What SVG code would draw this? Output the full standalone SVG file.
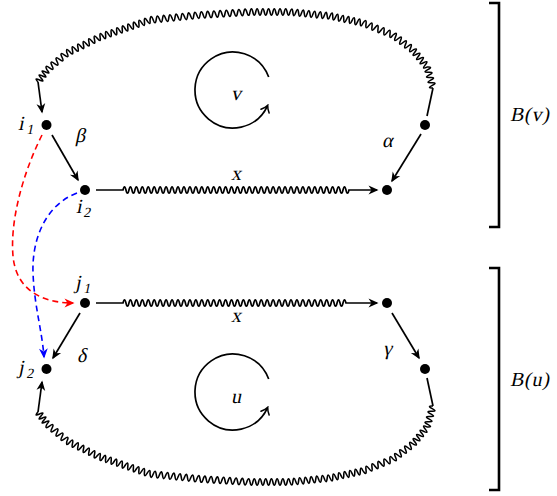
<svg xmlns="http://www.w3.org/2000/svg" width="557" height="496" viewBox="0 0 557 496">
<style>
.ln{fill:none;stroke:#000;stroke-width:1.7}
.sn path{fill:none;stroke:#000;stroke-width:1.6}
.dot{fill:#000}
.lb{font-family:'Liberation Serif','Times New Roman',serif;font-size:20px;fill:#000}
.sub{font-size:14px}
.br{fill:none;stroke:#000;stroke-width:2.6}
.dr{fill:none;stroke:#f00;stroke-width:1.6;stroke-dasharray:6 4}
.db{fill:none;stroke:#00f;stroke-width:1.6;stroke-dasharray:6 4}
</style>
<defs>
<marker id="ah" viewBox="-10 -5 12 10" refX="0" refY="0" markerWidth="12" markerHeight="10" markerUnits="userSpaceOnUse" orient="auto"><path d="M1.5,0 L-8.5,-4.4 L-5.5,0 L-8.5,4.4 Z" fill="#000"/></marker>
<marker id="ahr" viewBox="-10 -5 12 10" refX="0" refY="0" markerWidth="12" markerHeight="10" markerUnits="userSpaceOnUse" orient="auto"><path d="M1.5,0 L-8.5,-4.4 L-5.5,0 L-8.5,4.4 Z" fill="#f00"/></marker>
<marker id="ahb" viewBox="-10 -5 12 10" refX="0" refY="0" markerWidth="12" markerHeight="10" markerUnits="userSpaceOnUse" orient="auto"><path d="M1.5,0 L-8.5,-4.4 L-5.5,0 L-8.5,4.4 Z" fill="#00f"/></marker>
<marker id="oh" viewBox="-8 -6 10 12" refX="0" refY="0" markerWidth="10" markerHeight="12" markerUnits="userSpaceOnUse" orient="auto"><path d="M-5.5,-4.5 Q-2,-1 0.8,0 Q-2,1 -5.5,4.5" fill="none" stroke="#000" stroke-width="1.5" stroke-linecap="round"/></marker>
<g id="bigwave" class="sn">
<path transform="translate(433,88) rotate(-105.9)" d="M0,0q1.365,-6.4 2.73,0t2.73,0t2.73,0t2.73,0t2.73,0t2.73,0t2.73,0t2.73,0"/>
<path transform="translate(427,67) rotate(-129.5)" d="M0,0q1.375,-6.4 2.75,0t2.75,0t2.75,0t2.75,0t2.75,0t2.75,0t2.75,0t2.75,0"/>
<path transform="translate(413,50) rotate(-143.13)" d="M0,0q1.5625,-6.4 3.125,0t3.125,0t3.125,0t3.125,0t3.125,0t3.125,0t3.125,0t3.125,0"/>
<path transform="translate(393,35) rotate(-158.2)" d="M0,0q1.615,-6.4 3.23,0t3.23,0t3.23,0t3.23,0t3.23,0t3.23,0t3.23,0t3.23,0t3.23,0t3.23,0"/>
<path transform="translate(363,23) rotate(-168)" d="M0,0q1.405,-6.4 2.81,0t2.81,0t2.81,0t2.81,0t2.81,0t2.81,0t2.81,0t2.81,0t2.81,0t2.81,0t2.81,0t2.81,0"/>
<path transform="translate(330,16) rotate(-174.29)" d="M0,0q1.435,-6.4 2.87,0t2.87,0t2.87,0t2.87,0t2.87,0t2.87,0t2.87,0t2.87,0t2.87,0t2.87,0t2.87,0t2.87,0t2.87,0t2.87,0"/>
<path transform="translate(290,12) rotate(180)" d="M0,0q1.4285,-6.4 2.857,0t2.857,0t2.857,0t2.857,0t2.857,0t2.857,0t2.857,0t2.857,0t2.857,0t2.857,0t2.857,0t2.857,0t2.857,0t2.857,0"/>
<path transform="translate(250,12) rotate(176.57)" d="M0,0q1.565,-6.4 3.13,0t3.13,0t3.13,0t3.13,0t3.13,0t3.13,0t3.13,0t3.13,0t3.13,0t3.13,0t3.13,0t3.13,0t3.13,0t3.13,0t3.13,0t3.13,0"/>
<path transform="translate(200,15) rotate(174.29)" d="M0,0q1.57,-6.4 3.14,0t3.14,0t3.14,0t3.14,0t3.14,0t3.14,0t3.14,0t3.14,0t3.14,0t3.14,0t3.14,0t3.14,0t3.14,0t3.14,0t3.14,0t3.14,0"/>
<path transform="translate(150,20) rotate(161.22)" d="M0,0q1.465,-6.4 2.93,0t2.93,0t2.93,0t2.93,0t2.93,0t2.93,0t2.93,0t2.93,0t2.93,0t2.93,0t2.93,0t2.93,0t2.93,0t2.93,0t2.93,0t2.93,0t2.93,0t2.93,0"/>
<path transform="translate(100,37) rotate(154.13)" d="M0,0q1.53,-6.4 3.06,0t3.06,0t3.06,0t3.06,0t3.06,0t3.06,0t3.06,0t3.06,0t3.06,0t3.06,0t3.06,0t3.06,0"/>
<path transform="translate(67,53) rotate(139.64)" d="M0,0q1.64,-6.4 3.28,0t3.28,0t3.28,0t3.28,0t3.28,0t3.28,0t3.28,0t3.28,0"/>
<path transform="translate(47,70) rotate(126.87)" d="M0,0q1.25,-6.4 2.5,0t2.5,0t2.5,0t2.5,0t2.5,0t2.5,0"/>
</g>
</defs>
<rect width="557" height="496" fill="#fff"/>

<g id="connectors">
<g id="loop-v">
<path class="ln" d="M427,116 L433,88"/>
<use href="#bigwave"/>
<path class="ln" d="M38,82 L42,112" marker-end="url(#ah)"/>
</g>
<g id="loop-u">
<path class="ln" d="M427,378 L433,406"/>
<use href="#bigwave" transform="matrix(1 0 0 -1 0 494)"/>
<path class="ln" d="M38,412 L42,382" marker-end="url(#ah)"/>
</g>
<path id="e-beta" class="ln" d="M52,135 L78,180" marker-end="url(#ah)"/>
<path id="e-alpha" class="ln" d="M421,134 L392,181" marker-end="url(#ah)"/>
<path id="e-delta" class="ln" d="M80,313 L53,358" marker-end="url(#ah)"/>
<path id="e-gamma" class="ln" d="M392,313 L419,358" marker-end="url(#ah)"/>
<path id="e-x-top" class="ln" d="M96,190H123q1.4865,-6.4 2.973,0t2.973,0t2.973,0t2.973,0t2.973,0t2.973,0t2.973,0t2.973,0t2.973,0t2.973,0t2.973,0t2.973,0t2.973,0t2.973,0t2.973,0t2.973,0t2.973,0t2.973,0t2.973,0t2.973,0t2.973,0t2.973,0t2.973,0t2.973,0t2.973,0t2.973,0t2.973,0t2.973,0t2.973,0t2.973,0t2.973,0t2.973,0t2.973,0t2.973,0t2.973,0t2.973,0t2.973,0t2.973,0t2.973,0t2.973,0t2.973,0t2.973,0t2.973,0t2.973,0t2.973,0t2.973,0t2.973,0t2.973,0t2.973,0t2.973,0t2.973,0t2.973,0t2.973,0t2.973,0t2.973,0t2.973,0t2.973,0t2.973,0t2.973,0t2.973,0t2.973,0t2.973,0t2.973,0t2.973,0t2.973,0t2.973,0t2.973,0t2.973,0t2.973,0t2.973,0t2.973,0t2.973,0t2.973,0t2.973,0t2.973,0t2.973,0H377" marker-end="url(#ah)"/>
<path id="e-x-bot" class="ln" d="M96,303H123q1.4865,-6.4 2.973,0t2.973,0t2.973,0t2.973,0t2.973,0t2.973,0t2.973,0t2.973,0t2.973,0t2.973,0t2.973,0t2.973,0t2.973,0t2.973,0t2.973,0t2.973,0t2.973,0t2.973,0t2.973,0t2.973,0t2.973,0t2.973,0t2.973,0t2.973,0t2.973,0t2.973,0t2.973,0t2.973,0t2.973,0t2.973,0t2.973,0t2.973,0t2.973,0t2.973,0t2.973,0t2.973,0t2.973,0t2.973,0t2.973,0t2.973,0t2.973,0t2.973,0t2.973,0t2.973,0t2.973,0t2.973,0t2.973,0t2.973,0t2.973,0t2.973,0t2.973,0t2.973,0t2.973,0t2.973,0t2.973,0t2.973,0t2.973,0t2.973,0t2.973,0t2.973,0t2.973,0t2.973,0t2.973,0t2.973,0t2.973,0t2.973,0t2.973,0t2.973,0t2.973,0t2.973,0t2.973,0t2.973,0t2.973,0t2.973,0t2.973,0H377" marker-end="url(#ah)"/>
<path id="e-red" class="dr" d="M42,135 C22,175 10,222 13,256 C16,290 42,303 73,303" marker-end="url(#ahr)"/>
<path id="e-blue" class="db" d="M77,193 C45,205 32,240 33,272 C34,305 42,330 44,357" marker-end="url(#ahb)"/>
<text class="lb" transform="translate(75,142) skewX(-12)">β</text>
<text class="lb" transform="translate(382,147) skewX(-12)">α</text>
<text class="lb" transform="translate(236,180) skewX(-12)" text-anchor="middle">x</text>
<text class="lb" transform="translate(236,322) skewX(-12)" text-anchor="middle">x</text>
<text class="lb" transform="translate(77,362) skewX(-12)">δ</text>
<text class="lb" transform="translate(383,355) skewX(-12)">γ</text>
</g>

<g id="n-i1"><circle class="dot" cx="46.5" cy="125" r="5"/><text class="lb" transform="translate(18,130) skewX(-12)">i<tspan class="sub" x="9" y="4">1</tspan></text></g>
<g id="n-i2"><circle class="dot" cx="85" cy="190" r="5"/><text class="lb" transform="translate(76,213) skewX(-12)">i<tspan class="sub" x="8" y="4">2</tspan></text></g>
<g id="n-a"><circle class="dot" cx="425" cy="125" r="5"/></g>
<g id="n-b"><circle class="dot" cx="387" cy="190" r="5"/></g>
<g id="n-j1"><circle class="dot" cx="85" cy="303" r="5"/><text class="lb" transform="translate(75,289) skewX(-12)">j<tspan class="sub" x="9" y="4">1</tspan></text></g>
<g id="n-c"><circle class="dot" cx="387" cy="303" r="5"/></g>
<g id="n-j2"><circle class="dot" cx="46.5" cy="369" r="5"/><text class="lb" transform="translate(18,374) skewX(-12)">j<tspan class="sub" x="9" y="4">2</tspan></text></g>
<g id="n-d"><circle class="dot" cx="425" cy="369" r="5"/></g>

<g id="rot-v"><path class="ln" d="M268.7,77 A38,38 0 1 0 267.4,106.1" marker-end="url(#oh)"/><text class="lb" transform="translate(236,100) skewX(-12)" text-anchor="middle">v</text></g>
<g id="rot-u"><path class="ln" d="M268.7,379 A38,38 0 1 0 267.4,408.1" marker-end="url(#oh)"/><text class="lb" transform="translate(236,403) skewX(-12)" text-anchor="middle">u</text></g>

<g id="B-v"><path class="br" d="M489,3 H499 V227 H489"/><text class="lb" transform="translate(510,121) skewX(-12)" textLength="39" lengthAdjust="spacing">B(v)</text></g>
<g id="B-u"><path class="br" d="M489,268 H499 V490 H489"/><text class="lb" transform="translate(510,386) skewX(-12)" textLength="39" lengthAdjust="spacing">B(u)</text></g>
</svg>
